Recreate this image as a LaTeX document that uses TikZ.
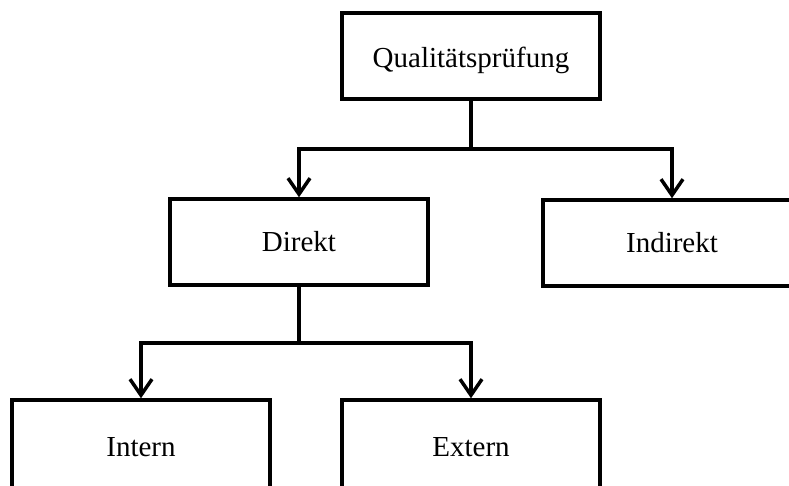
\documentclass[tikz,border=0pt]{standalone}
\usepackage{fontspec}
\setmainfont{Liberation Serif}
\usetikzlibrary{arrows.meta}
\begin{document}
\begin{tikzpicture}[x=1pt,y=-1pt,
	box/.style={draw,line width=3.5pt,minimum width=258pt,minimum height=86pt,inner sep=0pt,font=\fontsize{29}{34}\selectfont},
	link/.style={line width=3.5pt,-{Straight Barb[length=16pt,width=22pt,line width=3.5pt]}}]
	\useasboundingbox (0,0) rectangle (789,485);
	\clip (0,0) rectangle (789,485);

	\node[box] (qp) at (471,56) {\raisebox{-4pt}[\height][\depth]{Qualitätsprüfung}};
	\node[box] (dir) at (299,242) {Direkt};
	\node[box] (ind) at (672,243) {Indirekt};
	\node[box,minimum height=100pt] (int) at (141,450) {\raisebox{7pt}{Intern}};
	\node[box,minimum height=100pt] (ext) at (471,450) {\raisebox{7pt}{Extern}};

	% Verzweigungen
	\coordinate (j1) at (471,149);
	\coordinate (j2) at (299,343);

	\draw[link] (qp.south) -- (j1) -| (dir.north);
	\draw[link] (j1) -| (ind.north);
	\draw[link] (dir.south) -- (j2) -| (int.north);
	\draw[link] (j2) -| (ext.north);
\end{tikzpicture}
\end{document}
